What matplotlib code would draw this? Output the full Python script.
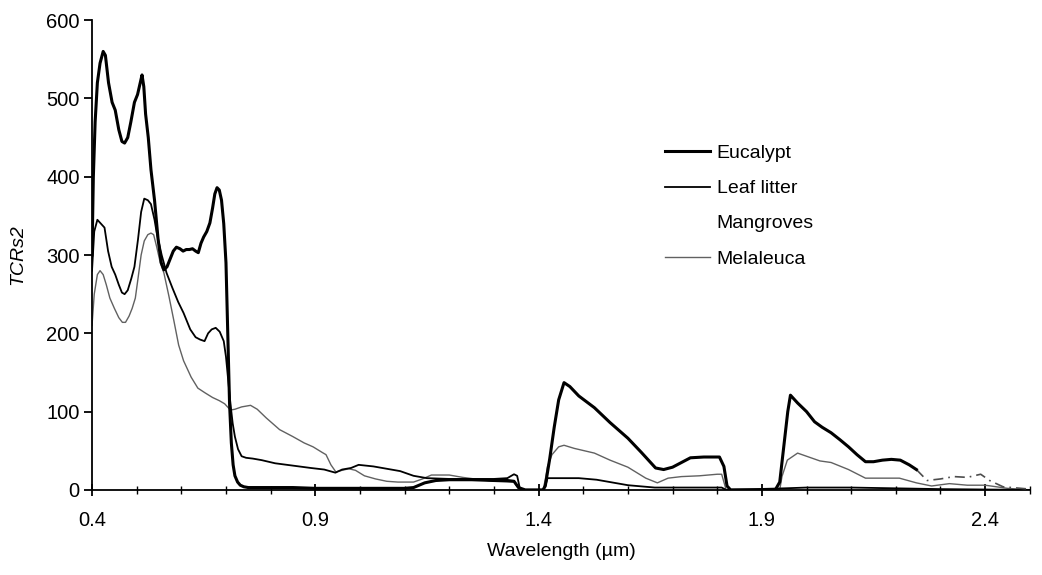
import matplotlib
matplotlib.use("Agg")
import numpy as np
import matplotlib.pyplot as plt

plt.rcParams['font.family'] = ['Liberation Sans', 'DejaVu Sans']

# Eucalypt (thick black)
euc_wl = [0.400, 0.403, 0.407, 0.412, 0.418, 0.425, 0.430, 0.437, 0.445, 0.452,
          0.460, 0.467, 0.473, 0.480, 0.487, 0.495, 0.502, 0.508, 0.512, 0.516,
          0.520, 0.526, 0.532, 0.540, 0.548, 0.555, 0.561, 0.568, 0.575, 0.582,
          0.589, 0.597, 0.604, 0.611, 0.618, 0.625, 0.632, 0.638, 0.644, 0.650,
          0.657, 0.664, 0.670, 0.675, 0.680, 0.685, 0.690, 0.695, 0.700, 0.704,
          0.708, 0.712, 0.716, 0.720, 0.726, 0.732, 0.740, 0.750, 0.770, 0.800,
          0.850, 0.900, 0.950, 1.000, 1.050, 1.100, 1.120, 1.145, 1.170, 1.200,
          1.250, 1.300, 1.330, 1.345, 1.355, 1.370, 1.410, 1.415, 1.425, 1.435,
          1.445, 1.457, 1.470, 1.490, 1.525, 1.560, 1.600, 1.630, 1.662, 1.680,
          1.700, 1.720, 1.740, 1.770, 1.805, 1.815, 1.822, 1.830, 1.930, 1.940,
          1.950, 1.958, 1.964, 1.980, 2.000, 2.018, 2.035, 2.055, 2.075, 2.094,
          2.113, 2.132, 2.150, 2.170, 2.190, 2.210, 2.230, 2.246]
euc = [300, 400, 470, 520, 545, 560, 555, 520, 495, 485,
       460, 445, 443, 450, 470, 495, 505, 520, 530, 515,
       480, 450, 409, 370, 320, 290, 281, 285, 295, 305,
       310, 308, 305, 307, 307, 308, 305, 303, 315, 323,
       330, 341, 360, 378, 386, 383, 370, 340, 290, 200,
       110, 60, 32, 18, 10, 6, 4, 3, 3, 3,
       3, 2, 2, 2, 2, 2, 3, 9, 12, 13,
       13, 12, 12, 11, 3, 0, 0, 5, 40, 80,
       115, 137, 132, 120, 105, 86, 66, 48, 28, 26,
       29, 35, 41, 42, 42, 30, 5, 0, 0, 10,
       60, 100, 121, 111, 100, 87, 80, 73, 64, 55,
       45, 36, 36, 38, 39, 38, 32, 26]
euc_tail_wl = [2.246, 2.270, 2.300, 2.330, 2.360, 2.390, 2.410, 2.440, 2.500]
euc_tail = [26, 12, 14, 17, 16, 20, 12, 4, 1]

# Leaf litter (thin black)
lit_wl = [0.400, 0.405, 0.412, 0.420, 0.428, 0.436, 0.444, 0.452, 0.460, 0.467,
          0.473, 0.480, 0.488, 0.495, 0.503, 0.510, 0.517, 0.525, 0.532, 0.540,
          0.545, 0.556, 0.567, 0.580, 0.593, 0.605, 0.620, 0.632, 0.642, 0.652,
          0.660, 0.668, 0.677, 0.686, 0.695, 0.700, 0.705, 0.710, 0.715, 0.720,
          0.727, 0.735, 0.745, 0.760, 0.780, 0.810, 0.850, 0.890, 0.920, 0.945,
          0.960, 0.980, 0.997, 1.030, 1.060, 1.090, 1.120, 1.150, 1.200, 1.250,
          1.300, 1.330, 1.345, 1.352, 1.358, 1.370, 1.410, 1.415, 1.420, 1.450,
          1.490, 1.530, 1.600, 1.660, 1.700, 1.810, 1.820, 1.950, 2.000, 2.100,
          2.200, 2.300, 2.500]
lit = [280, 330, 345, 340, 335, 305, 285, 275, 262, 252,
       250, 255, 270, 285, 320, 355, 372, 370, 365, 345,
       328, 300, 277, 258, 240, 226, 205, 195, 192, 190,
       200, 205, 207, 202, 190, 170, 140, 110, 85, 68,
       52, 43, 41, 40, 38, 34, 31, 28, 26, 22,
       26, 28, 32, 30, 27, 24, 18, 15, 14, 14,
       14, 15, 20, 18, 2, 0, 0, 5, 15, 15,
       15, 13, 6, 3, 3, 3, 0, 2, 3, 3,
       2, 1, 0]

# Mangroves (drawn white, as in the original)
man_wl = [0.40, 0.70, 1.00, 1.30, 1.60, 1.90, 2.20, 2.50]
man = [2, 2, 1, 1, 1, 0, 1, 0]

# Melaleuca (grey)
mel_wl = [0.400, 0.405, 0.412, 0.418, 0.425, 0.432, 0.440, 0.450, 0.460, 0.468,
          0.475, 0.483, 0.490, 0.497, 0.503, 0.510, 0.517, 0.525, 0.532, 0.538,
          0.545, 0.553, 0.561, 0.572, 0.583, 0.594, 0.605, 0.622, 0.637, 0.653,
          0.670, 0.685, 0.697, 0.710, 0.720, 0.735, 0.755, 0.770, 0.790, 0.820,
          0.850, 0.875, 0.895, 0.915, 0.924, 0.935, 0.946, 0.960, 0.975, 0.990,
          1.010, 1.035, 1.060, 1.085, 1.120, 1.140, 1.160, 1.200, 1.230, 1.270,
          1.300, 1.330, 1.345, 1.355, 1.370, 1.410, 1.415, 1.420, 1.430, 1.445,
          1.457, 1.480, 1.525, 1.560, 1.600, 1.640, 1.666, 1.690, 1.720, 1.760,
          1.800, 1.810, 1.815, 1.820, 1.940, 1.945, 1.957, 1.980, 2.000, 2.030,
          2.055, 2.094, 2.132, 2.170, 2.208, 2.246, 2.280, 2.320, 2.360, 2.400,
          2.450, 2.500]
mel = [210, 250, 275, 280, 275, 262, 245, 232, 220, 214,
       214, 222, 232, 245, 270, 300, 318, 326, 328, 326,
       310, 290, 277, 248, 217, 185, 165, 144, 130, 124,
       118, 114, 110, 102, 103, 106, 108, 103, 92, 77,
       68, 60, 55, 48, 45, 32, 23, 25, 27, 25,
       18, 14, 11, 10, 10, 14, 19, 19, 16, 13,
       11, 10, 10, 2, 0, 0, 13, 30, 45, 55,
       57, 53, 47, 38, 29, 15, 9, 15, 17, 18,
       20, 20, 10, 0, 0, 17, 38, 47, 43, 37,
       35, 26, 15, 15, 15, 9, 5, 8, 6, 6,
       2, 0]

fig = plt.figure(figsize=(10.42, 5.75), dpi=100)
ax = fig.add_axes([0.0883, 0.148, 0.9, 0.817])

ax.plot(man_wl, man, color='white', lw=1.0, zorder=1, label='Mangroves')
ax.plot(mel_wl, mel, color='0.38', lw=1.0, zorder=2, label='Melaleuca')
ax.plot(lit_wl, lit, color='black', lw=1.3, zorder=3, label='Leaf litter')
ax.plot(euc_wl, euc, color='black', lw=2.2, zorder=4, label='Eucalypt')
ax.plot(euc_tail_wl, euc_tail, color='0.3', lw=1.2, ls=(0, (6, 3, 1, 3)), zorder=3)

ax.set_xlim(0.4, 2.5)
ax.set_ylim(0, 600)
ax.set_xticks([0.4, 0.9, 1.4, 1.9, 2.4])
ax.set_xticklabels(['0.4', '0.9', '1.4', '1.9', '2.4'])
ax.set_xticks(np.arange(0.4, 2.55, 0.1), minor=True)
ax.set_yticks(range(0, 601, 100))

ax.spines['top'].set_visible(False)
ax.spines['right'].set_visible(False)
ax.spines['left'].set_linewidth(1.3)
ax.spines['bottom'].set_linewidth(1.3)
ax.tick_params(axis='x', which='major', direction='inout', length=9, width=1.3,
               labelsize=14.5, pad=11)
ax.tick_params(axis='x', which='minor', direction='inout', length=6, width=1.0)
ax.tick_params(axis='y', direction='out', length=6, width=1.3, labelsize=14.5, pad=3)

ax.set_xlabel('Wavelength (µm)', fontsize=14, labelpad=9)
ax.set_ylabel('TCRs2', fontsize=14, style='italic', labelpad=14)

handles, labels = ax.get_legend_handles_labels()
order = [3, 2, 0, 1]
ax.legend([handles[i] for i in order], [labels[i] for i in order],
          loc='upper left', bbox_to_anchor=(0.611, 0.735), frameon=False,
          fontsize=14, handlelength=2.3, handletextpad=0.35,
          labelspacing=0.9, borderpad=0, borderaxespad=0)

fig.savefig('out.png', dpi=100)
